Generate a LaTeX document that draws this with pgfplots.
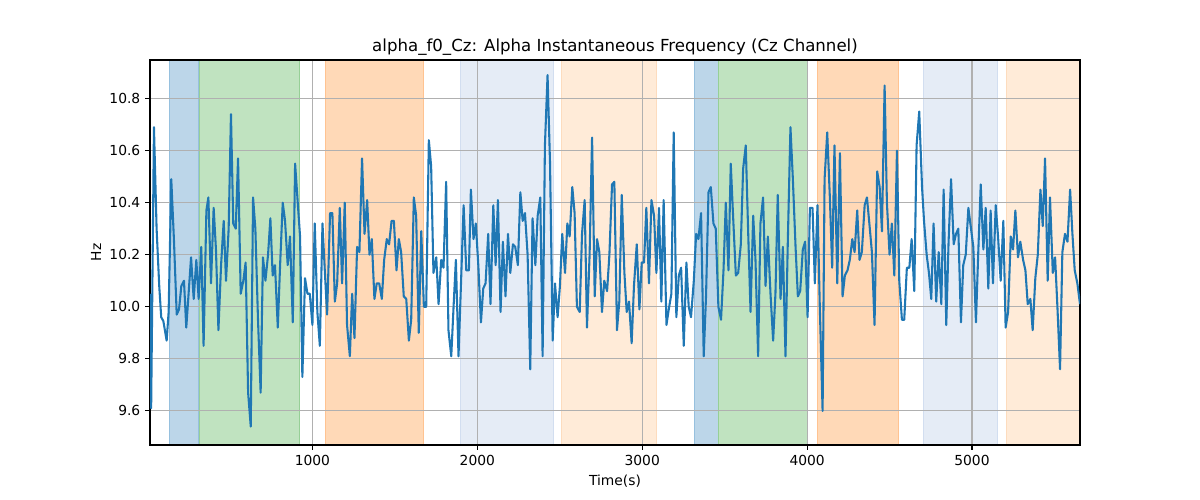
\documentclass[border=0pt]{standalone}
\usepackage{fontspec}
\setmainfont{DejaVu Sans}
\usepackage{pgfplots}
\pgfplotsset{compat=1.18}
\definecolor{tabblue}{RGB}{31,119,180}
\definecolor{gridgray}{RGB}{176,176,176}
\definecolor{spBlue}{RGB}{188,214,233}
\definecolor{spBlueE}{RGB}{150,192,222}
\definecolor{spGreen}{RGB}{192,227,192}
\definecolor{spGreenE}{RGB}{150,207,150}
\definecolor{spOrange}{RGB}{255,217,183}
\definecolor{spOrangeE}{RGB}{255,195,145}
\definecolor{spLBlue}{RGB}{229,236,246}
\definecolor{spLBlueE}{RGB}{210,222,240}
\definecolor{spLOrange}{RGB}{255,235,216}
\definecolor{spLOrangeE}{RGB}{253,220,190}
\begin{document}
\begin{tikzpicture}
\begin{axis}[
  at={(0,0)}, anchor=south west,
  scale only axis, width=9.3in, height=3.85in,
  set layers=standard,
  xmin=15, xmax=5655, ymin=9.469, ymax=10.948,
  xtick={1000,2000,3000,4000,5000},
  ytick={9.6,9.8,10.0,10.2,10.4,10.6,10.8},
  yticklabels={9.6,9.8,10.0,10.2,10.4,10.6,10.8},
  /pgf/number format/assume math mode=true,
  /pgf/number format/1000 sep={},
  tick label style={font=\fontsize{10}{12}\selectfont},
  tick align=outside, tick pos=left,
  major tick length=3.5pt,
  every tick/.style={black, line width=0.8pt},
  axis line style={line width=0.8pt, black},
  grid=major,
  major grid style={gridgray, line width=0.8pt},
  title={alpha\_f0\_Cz: Alpha Instantaneous Frequency (Cz Channel)},
  title style={font=\fontsize{12}{14}\selectfont, at={(axis description cs:0.5,1)}, anchor=south, yshift=-2.6pt, inner sep=0pt},
  xlabel={Time(s)},
  xlabel style={font=\fontsize{10}{12}\selectfont, at={(axis description cs:0.5,-0.0935)}, anchor=center},
  ylabel={Hz},
  ylabel style={font=\fontsize{10}{12}\selectfont, at={(axis description cs:-0.058,0.5)}, anchor=center},
]
% spans
\addplot[on layer=axis background, fill=spBlue, draw=spBlueE, line width=0.7pt] coordinates {(135,9.469) (135,10.948) (311,10.948) (311,9.469)} -- cycle;
\addplot[on layer=axis background, fill=spGreen, draw=spGreenE, line width=0.7pt] coordinates {(317,9.469) (317,10.948) (921,10.948) (921,9.469)} -- cycle;
\addplot[on layer=axis background, fill=spOrange, draw=spOrangeE, line width=0.7pt] coordinates {(1081,9.469) (1081,10.948) (1673,10.948) (1673,9.469)} -- cycle;
\addplot[on layer=axis background, fill=spLBlue, draw=spLBlueE, line width=0.7pt] coordinates {(1899,9.469) (1899,10.948) (2461,10.948) (2461,9.469)} -- cycle;
\addplot[on layer=axis background, fill=spLOrange, draw=spLOrangeE, line width=0.7pt] coordinates {(2512,9.469) (2512,10.948) (3086,10.948) (3086,9.469)} -- cycle;
\addplot[on layer=axis background, fill=spBlue, draw=spBlueE, line width=0.7pt] coordinates {(3320,9.469) (3320,10.948) (3460,10.948) (3460,9.469)} -- cycle;
\addplot[on layer=axis background, fill=spGreen, draw=spGreenE, line width=0.7pt] coordinates {(3460,9.469) (3460,10.948) (4001,10.948) (4001,9.469)} -- cycle;
\addplot[on layer=axis background, fill=spOrange, draw=spOrangeE, line width=0.7pt] coordinates {(4060,9.469) (4060,10.948) (4554,10.948) (4554,9.469)} -- cycle;
\addplot[on layer=axis background, fill=spLBlue, draw=spLBlueE, line width=0.7pt] coordinates {(4707,9.469) (4707,10.948) (5156,10.948) (5156,9.469)} -- cycle;
\addplot[on layer=axis background, fill=spLOrange, draw=spLOrangeE, line width=0.7pt] coordinates {(5210,9.469) (5210,10.948) (5655,10.948) (5655,9.469)} -- cycle;
% signal
\addplot[tabblue, line width=1.5pt, line join=round, mark=none] coordinates {
(15,10.05) (22,9.61) (39,10.69) (55,10.30) (71,10.08) (83,9.96) (96,9.945) (116,9.87) (128,9.98) (144,10.49) (160,10.26) (177,9.97) (191,9.99) (205,10.08) (221,10.10) (235,9.92) (249,10.05) (264,10.19) (280,10.03) (296,10.18) (310,10.03) (326,10.23) (340,9.85) (357,10.37) (369,10.42) (385,10.09) (401,10.38) (415,10.22) (430,9.91) (446,10.16) (462,10.33) (476,10.10) (492,10.30) (506,10.74) (520,10.32) (535,10.30) (549,10.57) (565,10.05) (581,10.10) (595,10.17) (610,9.67) (626,9.54) (640,10.42) (654,10.30) (670,9.95) (686,9.67) (700,10.19) (715,10.10) (731,10.20) (745,10.34) (759,10.12) (773,10.16) (790,9.92) (804,10.16) (820,10.40) (834,10.33) (850,10.16) (864,10.27) (881,9.94) (895,10.55) (911,10.40) (925,10.27) (939,9.73) (955,10.11)
(970,10.05) (984,10.05) (1000,9.93) (1014,10.32) (1030,9.98) (1045,9.85) (1061,10.32) (1075,10.14) (1089,9.97) (1107,10.36) (1121,10.36) (1136,10.02) (1150,10.09) (1166,10.38) (1180,10.09) (1196,10.40) (1210,9.93) (1227,9.81) (1241,10.05) (1255,9.88) (1271,10.23) (1285,10.21) (1301,10.57) (1316,10.28) (1332,10.41) (1346,10.20) (1360,10.26) (1376,10.03) (1390,10.09) (1405,10.09) (1421,10.03) (1435,10.18) (1451,10.26) (1465,10.24) (1480,10.33) (1494,10.33) (1510,10.14) (1524,10.26) (1538,10.21) (1554,10.04) (1569,10.03) (1585,9.87) (1599,9.95) (1615,10.42) (1629,10.35) (1645,9.90) (1660,10.29) (1676,10.00) (1690,10.00) (1706,10.64) (1720,10.54) (1734,10.13) (1751,10.19) (1765,10.01) (1781,10.18) (1795,10.15) (1811,10.48) (1825,9.91) (1842,9.81) (1856,10.00) (1870,10.18) (1886,9.81)
(1900,10.07) (1917,10.39) (1933,10.14) (1949,10.14) (1961,10.45) (1977,10.26) (1991,10.32) (2006,10.16) (2022,9.94) (2036,10.07) (2050,10.09) (2066,10.28) (2080,10.01) (2097,10.39) (2111,10.16) (2125,10.41) (2141,9.98) (2155,10.25) (2171,10.04) (2186,10.28) (2200,10.13) (2216,10.24) (2230,10.23) (2246,10.16) (2261,10.44) (2275,10.33) (2289,10.36) (2305,10.20) (2321,9.76) (2335,10.34) (2352,10.16) (2366,10.35) (2382,10.42) (2396,9.81) (2410,10.62) (2426,10.89) (2441,10.55) (2457,9.87) (2471,10.09) (2487,9.96) (2501,10.08) (2515,10.28) (2532,10.13) (2546,10.32) (2560,10.27) (2576,10.46) (2590,10.36) (2604,10.00) (2621,9.98) (2635,10.28) (2651,10.41) (2665,9.92) (2681,10.20) (2696,10.65) (2712,10.04) (2726,10.26) (2740,10.21) (2756,9.98) (2770,10.10) (2787,10.06) (2801,10.20) (2817,10.47)
(2831,10.48) (2847,9.91) (2861,10.02) (2876,10.43) (2892,10.13) (2906,9.98) (2920,10.02) (2936,9.86) (2950,10.08) (2967,10.24) (2983,9.99) (2997,10.17) (3011,10.17) (3025,10.38) (3041,10.09) (3056,10.41) (3072,10.35) (3086,10.13) (3102,10.38) (3116,10.02) (3130,10.41) (3147,9.93) (3161,9.99) (3177,10.05) (3191,10.67) (3207,9.96) (3222,10.12) (3236,10.15) (3252,9.85) (3268,10.17) (3282,10.00) (3296,9.96) (3313,10.10) (3327,10.28) (3341,10.26) (3357,10.36) (3373,9.81) (3387,10.04) (3402,10.44) (3416,10.46) (3432,10.32) (3446,10.30) (3462,10.00) (3478,9.95) (3493,10.14) (3507,10.40) (3523,10.14) (3537,10.55) (3551,10.35) (3568,10.12) (3582,10.13) (3598,10.24) (3612,10.53) (3628,10.62) (3642,10.30) (3657,9.98) (3673,10.35) (3687,10.18) (3703,9.81) (3717,10.32) (3733,10.42) (3748,10.08)
(3762,10.27) (3778,10.05) (3794,9.87) (3808,10.05) (3822,10.43) (3839,10.03) (3853,10.23) (3869,9.81) (3883,10.25) (3899,10.69) (3913,10.50) (3930,10.23) (3944,10.04) (3958,10.06) (3974,10.22) (3988,10.25) (4003,9.96) (4017,10.38) (4033,10.38) (4047,10.09) (4063,10.39) (4077,10.00) (4094,9.60) (4106,10.49) (4122,10.67) (4138,10.42) (4152,10.15) (4166,10.62) (4183,10.09) (4199,10.59) (4215,10.04) (4229,10.12) (4245,10.14) (4259,10.18) (4274,10.26) (4288,10.21) (4304,10.37) (4318,10.18) (4332,10.21) (4349,10.39) (4363,10.42) (4379,10.31) (4393,10.21) (4409,9.93) (4425,10.52) (4440,10.46) (4454,10.29) (4470,10.85) (4484,10.40) (4500,10.20) (4514,10.32) (4529,10.12) (4545,10.60) (4559,10.10) (4575,9.95) (4589,9.95) (4605,10.15) (4620,10.15) (4634,10.26) (4650,10.06) (4664,10.62) (4680,10.75)
(4697,10.46) (4709,10.33) (4725,10.20) (4739,10.13) (4753,10.03) (4767,10.32) (4783,10.02) (4798,10.21) (4814,10.01) (4828,10.45) (4844,9.93) (4858,10.25) (4873,10.49) (4889,10.24) (4903,10.28) (4917,10.30) (4933,9.94) (4947,10.16) (4962,10.20) (4978,10.38) (4992,10.31) (5008,10.23) (5024,9.94) (5038,10.21) (5053,10.47) (5069,10.22) (5083,10.38) (5099,10.07) (5113,10.37) (5127,10.09) (5144,10.39) (5158,10.27) (5174,10.10) (5190,10.33) (5204,9.92) (5219,9.98) (5235,10.27) (5249,10.22) (5263,10.37) (5279,10.19) (5293,10.25) (5310,10.18) (5324,10.14) (5338,10.01) (5354,10.03) (5368,9.91) (5384,10.11) (5399,10.20) (5415,10.45) (5429,10.31) (5443,10.57) (5459,10.10) (5473,10.42) (5490,10.13) (5504,10.19) (5518,10.00) (5534,9.76) (5548,10.21) (5564,10.28) (5579,10.25) (5595,10.45) (5609,10.28) (5623,10.14) (5639,10.09) (5655,10.01)
};
\end{axis}
\pgfresetboundingbox
\useasboundingbox (-1.5in,-0.55in) rectangle (10.5in,4.45in);
\end{tikzpicture}
\end{document}
